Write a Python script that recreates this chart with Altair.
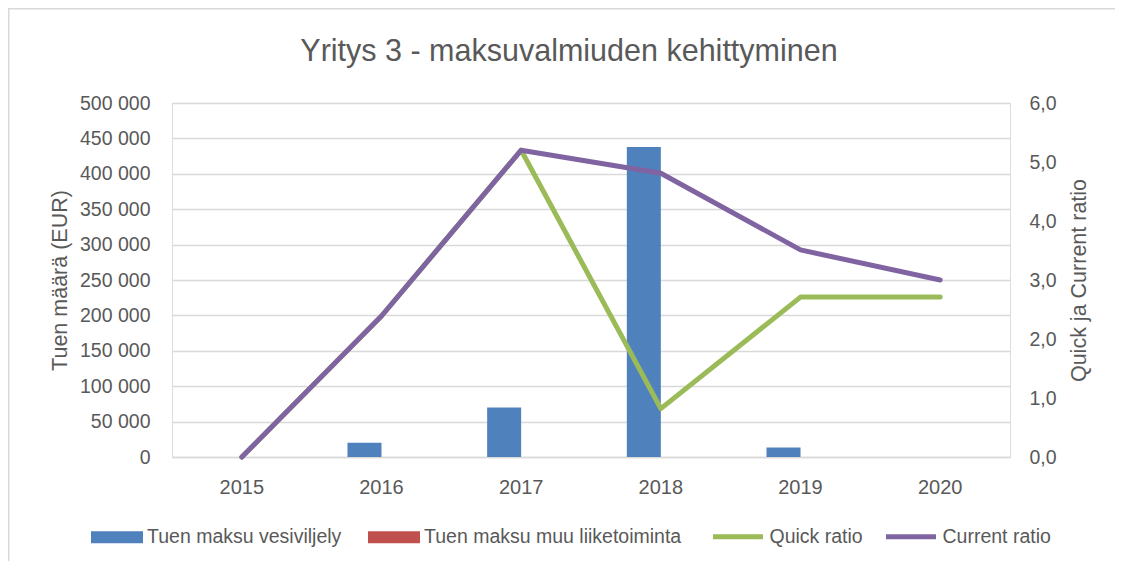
import altair as alt
import pandas as pd

years = ["2015", "2016", "2017", "2018", "2019", "2020"]
bar_series = ["Tuen maksu vesiviljely", "Tuen maksu muu liiketoiminta"]
vesiviljely = [0, 20000, 70000, 438000, 13500, 0]
muu_liiketoiminta = [0, 0, 0, 0, 0, 0]
line_series = ["Quick ratio", "Current ratio"]
quick_ratio = [0.0, 2.39, 5.2, 0.82, 2.71, 2.71]
current_ratio = [0.0, 2.39, 5.2, 4.81, 3.51, 3.0]

bar_colors = ["#4f81bd", "#c0504d"]
line_colors = ["#9bbb59", "#8064a2"]

FONT = "Liberation Sans, Arial, sans-serif"
TXT = "#595959"

bars_df = pd.DataFrame(
    [{"year": y, "series": bar_series[0], "value": v} for y, v in zip(years, vesiviljely)]
    + [{"year": y, "series": bar_series[1], "value": v} for y, v in zip(years, muu_liiketoiminta)]
)
quick_df = pd.DataFrame({"year": years, "series": line_series[0], "ratio": quick_ratio})
current_df = pd.DataFrame({"year": years, "series": line_series[1], "ratio": current_ratio})

W, H = 838, 354
PAD_L, PAD_T = 164, 95
PAD_R, PAD_B = 105, 104

# light frame around the whole chart area
frame = alt.Chart(pd.DataFrame({"f": [0]})).mark_rect(
    fill=None, stroke="#d9d9d9", strokeWidth=1.5
).encode(
    x=alt.value(-PAD_L + 0.75), x2=alt.value(W + 200),
    y=alt.value(-PAD_T + 0.75), y2=alt.value(H + 200),
)

x_enc = alt.X(
    "year:N",
    sort=years,
    title=None,
    scale=alt.Scale(paddingInner=0.513, paddingOuter=0.2565),
    axis=alt.Axis(
        labelFont=FONT, labelFontSize=20, labelColor=TXT, labelPadding=20,
        ticks=False, domain=True, domainColor="#d9d9d9", domainWidth=1.5,
        labelAngle=0, grid=False,
    ),
)

bars = alt.Chart(bars_df).mark_bar().encode(
    x=x_enc,
    xOffset=alt.XOffset("series:N", sort=bar_series, scale=alt.Scale(domain=bar_series, paddingInner=0, paddingOuter=0)),
    y=alt.Y(
        "value:Q",
        scale=alt.Scale(domain=[0, 500000], nice=False),
        title="Tuen määrä (EUR)",
        axis=alt.Axis(
            values=list(range(0, 500001, 50000)),
            labelExpr="replace(format(datum.value, ','), ',', ' ')",
            labelFont=FONT, labelFontSize=19.5, labelColor=TXT, labelPadding=22,
            titleFont=FONT, titleFontSize=21.5, titleColor=TXT, titleFontWeight="normal",
            titlePadding=8,
            ticks=False, domain=False, grid=True, gridColor="#d9d9d9", gridWidth=1.5,
        ),
    ),
    fill=alt.Fill(
        "series:N",
        scale=alt.Scale(domain=bar_series, range=bar_colors),
        legend=alt.Legend(
            title=None, orient="none", legendX=-81, legendY=408, direction="horizontal",
            symbolType="M-1,-0.23H1V0.23H-1Z", symbolSize=2704, symbolStrokeWidth=0,
            labelFont=FONT, labelFontSize=19.5, labelColor=TXT, labelOffset=4,
            columnPadding=26, padding=0, labelLimit=400,
        ),
    ),
)

y_line = alt.Y(
    "ratio:Q",
    scale=alt.Scale(domain=[0, 6], nice=False),
    title="Quick ja Current ratio",
    axis=alt.Axis(
        orient="right", values=[0, 1, 2, 3, 4, 5, 6],
        labelExpr="replace(format(datum.value, '.1f'), '.', ',')",
        labelFont=FONT, labelFontSize=19.5, labelColor=TXT, labelPadding=19,
        titleFont=FONT, titleFontSize=21.5, titleColor=TXT, titleFontWeight="normal",
        titleAngle=270, titleBaseline="top", titlePadding=12,
        ticks=False, domain=False, grid=False,
    ),
)

stroke_enc = alt.Stroke(
    "series:N",
    scale=alt.Scale(domain=line_series, range=line_colors),
    legend=alt.Legend(
        title=None, orient="none", legendX=538.5, legendY=406, direction="horizontal",
        symbolType="stroke", symbolSize=2500, symbolStrokeWidth=5,
        labelFont=FONT, labelFontSize=19.5, labelColor=TXT, labelOffset=4,
        columnPadding=12, padding=0, labelLimit=400,
    ),
)

quick = alt.Chart(quick_df).mark_line(strokeWidth=5, strokeCap="round", strokeJoin="round").encode(
    x=alt.X("year:N", sort=years), y=y_line, stroke=stroke_enc
)
current = alt.Chart(current_df).mark_line(strokeWidth=5, strokeCap="round", strokeJoin="round").encode(
    x=alt.X("year:N", sort=years), y=y_line, stroke=stroke_enc
)

lines = alt.layer(quick, current)

chart = (
    alt.layer(frame, bars, lines)
    .resolve_scale(y="independent")
    .properties(
        width=W,
        height=H,
        title=alt.TitleParams(
            "Yritys 3 - maksuvalmiuden kehittyminen",
            font=FONT, fontSize=30.5, fontWeight="normal", color=TXT,
            anchor="middle", offset=-59.5, dx=-22,
        ),
        autosize=alt.AutoSizeParams(type="none"),
        padding={"left": PAD_L, "top": PAD_T, "right": PAD_R, "bottom": PAD_B},
    )
    .configure_view(stroke=None)
    .configure(background="white")
)

chart.save("out.html", embed_options={"renderer": "svg", "actions": False})
